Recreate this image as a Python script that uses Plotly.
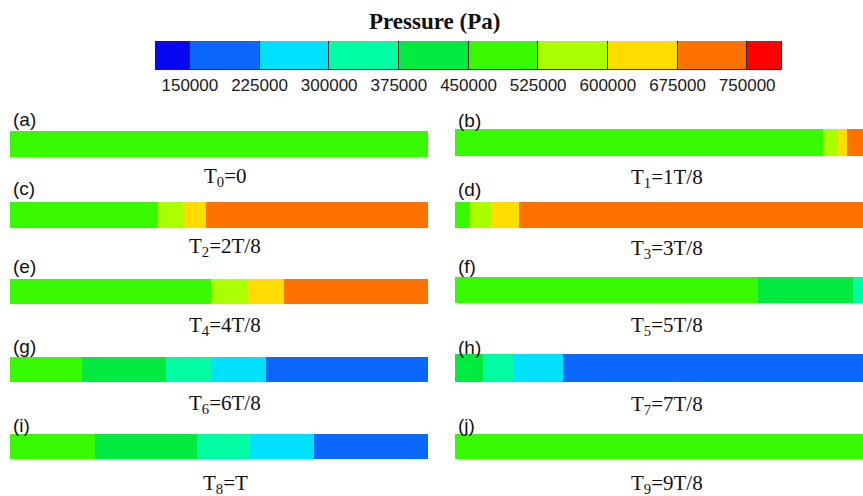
import plotly.graph_objects as go

W, H = 863, 496

# ---- data ----
bin_edges = [112500, 150000, 225000, 300000, 375000, 450000, 525000, 600000, 675000, 750000, 787500]
bin_colors = ["#0707f2", "#0a68ff", "#00e0ff", "#00ffa2", "#00ea40",
              "#38fa00", "#aaff00", "#ffdd00", "#ff7200", "#ff0000"]
tick_vals = [150000, 225000, 300000, 375000, 450000, 525000, 600000, 675000, 750000]

panel_letters = ["(a)", "(b)", "(c)", "(d)", "(e)", "(f)", "(g)", "(h)", "(i)", "(j)"]
time_labels = ["T<sub>0</sub>=0", "T<sub>1</sub>=1T/8", "T<sub>2</sub>=2T/8", "T<sub>3</sub>=3T/8",
               "T<sub>4</sub>=4T/8", "T<sub>5</sub>=5T/8", "T<sub>6</sub>=6T/8", "T<sub>7</sub>=7T/8",
               "T<sub>8</sub>=T", "T<sub>9</sub>=9T/8"]

# segment boundaries along the pipe (fraction of length) and pressure (Pa) per segment
seg_a = [0.0, 1.0]
p_a = [487500]
seg_b = [0.0, 0.880, 0.916, 0.938, 1.0]
p_b = [487500, 562500, 637500, 712500]
seg_c = [0.0, 0.354, 0.414, 0.469, 1.0]
p_c = [487500, 562500, 637500, 712500]
seg_d = [0.0, 0.036, 0.086, 0.153, 1.0]
p_d = [487500, 562500, 637500, 712500]
seg_e = [0.0, 0.481, 0.569, 0.656, 1.0]
p_e = [487500, 562500, 637500, 712500]
seg_f = [0.0, 0.725, 0.952, 1.0]
p_f = [487500, 412500, 337500]
seg_g = [0.0, 0.172, 0.373, 0.481, 0.612, 1.0]
p_g = [487500, 412500, 337500, 262500, 187500]
seg_h = [0.0, 0.067, 0.139, 0.258, 1.0]
p_h = [412500, 337500, 262500, 187500]
seg_i = [0.0, 0.203, 0.447, 0.574, 0.727, 1.0]
p_i = [487500, 412500, 337500, 262500, 187500]
seg_j = [0.0, 1.0]
p_j = [487500]

segments = [seg_a, seg_b, seg_c, seg_d, seg_e, seg_f, seg_g, seg_h, seg_i, seg_j]
pressures = [p_a, p_b, p_c, p_d, p_e, p_f, p_g, p_h, p_i, p_j]


def color_of(p):
    for k in range(len(bin_colors)):
        if bin_edges[k] <= p < bin_edges[k + 1]:
            return bin_colors[k]
    return bin_colors[-1]


def px(x):
    return x / W


def py(y):
    return 1 - y / H


fig = go.Figure()

# ---- colour legend (top) ----
centers = [(bin_edges[k] + bin_edges[k + 1]) / 2 for k in range(10)]
widths = [bin_edges[k + 1] - bin_edges[k] for k in range(10)]
fig.add_trace(go.Bar(x=centers, y=[1] * 10, width=widths, marker=dict(color=bin_colors,
                     line=dict(color="#2a2a2a", width=1)), xaxis="x", yaxis="y",
                     showlegend=False, hoverinfo="skip"))

layout = dict(
    width=W, height=H, margin=dict(l=0, r=0, t=0, b=0),
    paper_bgcolor="white", plot_bgcolor="rgba(0,0,0,0)", barmode="overlay", bargap=0,
    showlegend=False,
    xaxis=dict(domain=[px(155), px(782)], range=[bin_edges[0], bin_edges[-1]],
               tickvals=tick_vals, ticktext=[str(v) for v in tick_vals], ticks="",
               showgrid=False, zeroline=False, showline=False, anchor="y",
               tickfont=dict(family="Liberation Sans, Arial", size=17, color="#1a1a1a"),
               ticklabelstandoff=3),
    yaxis=dict(domain=[py(70), py(41)], range=[0, 1], visible=False, anchor="x"),
)

annotations = [dict(text="<b>Pressure (Pa)</b>", x=px(434), y=py(21), xref="paper", yref="paper",
                    showarrow=False, xanchor="center", yanchor="middle",
                    font=dict(family="Liberation Serif, Times New Roman", size=23, color="#111"))]

# ---- panels ----
left_top = [131, 202, 279, 357, 434]
left_bot = [157, 228, 304, 382, 459]
right_top = [129, 202, 277, 354, 434]
right_bot = [156, 228, 303, 382, 459]
left_letter_y = [119, 188, 266, 346, 425]
right_letter_y = [120, 189, 266, 347, 425]
left_time_y = [177, 247, 326, 404, 484]
right_time_y = [178, 249, 326, 405, 484]

bar_len_px = 418
for n in range(10):
    row, col = n // 2, n % 2
    ax = n + 2
    xa, ya = "x%d" % ax, "y%d" % ax
    seg, pr = segments[n], pressures[n]
    starts = seg[:-1]
    lens = [seg[k + 1] - seg[k] for k in range(len(pr))]
    fig.add_trace(go.Bar(y=[0] * len(pr), x=lens, base=starts, orientation="h", width=1,
                         marker=dict(color=[color_of(p) for p in pr], line=dict(width=0)),
                         xaxis=xa, yaxis=ya, showlegend=False, hoverinfo="skip"))
    if col == 0:
        x0, x1 = 10, 428
        top, bot = left_top[row], left_bot[row]
        xr = [0, 1]
        ly, ty = left_letter_y[row], left_time_y[row]
        tx = 225
    else:
        x0, x1 = 455, 863
        top, bot = right_top[row], right_bot[row]
        xr = [0, (x1 - x0) / bar_len_px]
        ly, ty = right_letter_y[row], right_time_y[row]
        tx = 667
    layout["xaxis%d" % ax] = dict(domain=[px(x0), px(x1)], range=xr, visible=False,
                                   anchor=ya, fixedrange=True)
    layout["yaxis%d" % ax] = dict(domain=[py(bot), py(top)], range=[-0.5, 0.5], visible=False,
                                   anchor=xa, fixedrange=True)
    annotations.append(dict(text=panel_letters[n], x=px(x0 + 1), y=py(ly), xref="paper", yref="paper",
                            showarrow=False, xanchor="left", yanchor="middle",
                            font=dict(family="Liberation Sans, Arial", size=19, color="#111")))
    annotations.append(dict(text=time_labels[n], x=px(tx), y=py(ty), xref="paper", yref="paper",
                            showarrow=False, xanchor="center", yanchor="middle",
                            font=dict(family="Liberation Serif, Times New Roman", size=21, color="#111")))

layout["annotations"] = annotations
fig.update_layout(**layout)
fig.write_html("out.html", config={"displayModeBar": False},
               post_script="document.body.style.margin='0';document.body.style.padding='0';"
                           "document.documentElement.style.overflow='hidden';")
